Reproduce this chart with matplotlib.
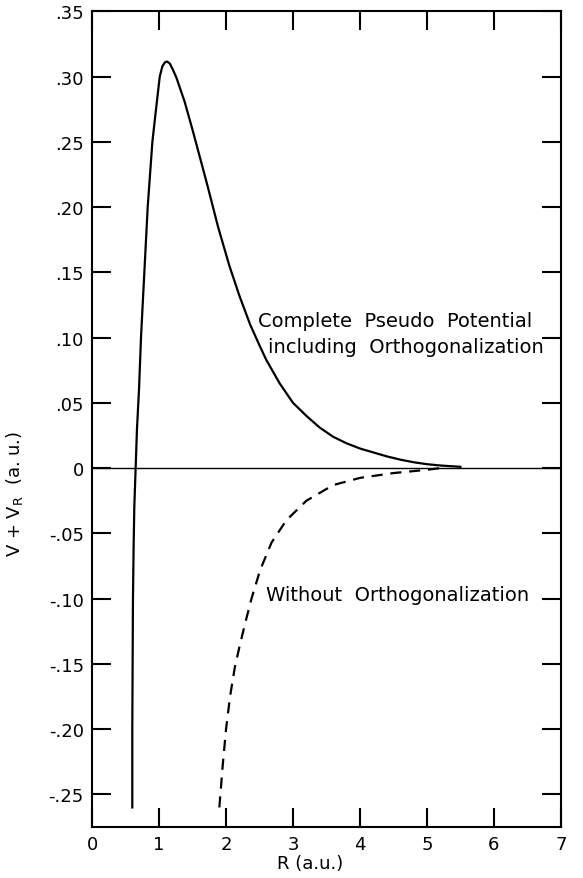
import numpy as np
import matplotlib
matplotlib.use('Agg')
import matplotlib.pyplot as plt

# values (R in a.u., V + V_R in a.u.)
r_complete = [0.60, 0.60, 0.605, 0.61, 0.62, 0.63, 0.65, 0.67, 0.70, 0.73, 0.78, 0.83, 0.90, 0.95,
              1.01, 1.05, 1.09, 1.12, 1.16, 1.20, 1.26, 1.38, 1.49, 1.60, 1.72, 1.88, 2.05, 2.20,
              2.36, 2.50, 2.60, 2.80, 3.00, 3.20, 3.40, 3.60, 3.80, 4.00, 4.20, 4.40, 4.60, 4.80,
              5.00, 5.20, 5.50]
v_complete = [-0.26, -0.20, -0.15, -0.10, -0.06, -0.03, 0.0, 0.03, 0.06, 0.10, 0.15, 0.20, 0.25, 0.273,
              0.300, 0.308, 0.311, 0.3115, 0.310, 0.306, 0.299, 0.281, 0.261, 0.240, 0.217, 0.185, 0.155, 0.132,
              0.110, 0.094, 0.083, 0.065, 0.050, 0.040, 0.031, 0.024, 0.019, 0.015, 0.012, 0.009, 0.0065, 0.0045,
              0.003, 0.002, 0.001]

r_without = [1.90, 1.95, 2.00, 2.06, 2.13, 2.20, 2.28, 2.38, 2.51, 2.68, 2.90, 3.20, 3.60, 4.00, 4.50, 5.00, 5.20]
v_without = [-0.26, -0.228, -0.200, -0.175, -0.153, -0.137, -0.120, -0.100, -0.078, -0.057, -0.040, -0.025,
             -0.013, -0.0075, -0.0038, -0.0013, 0.0]

x_ticks = [0, 1, 2, 3, 4, 5, 6, 7]
y_ticks = [0.35, 0.30, 0.25, 0.20, 0.15, 0.10, 0.05, 0.0, -0.05, -0.10, -0.15, -0.20, -0.25]
y_tick_labels = ['.35', '.30', '.25', '.20', '.15', '.10', '.05', '0', '-.05', '-.10', '-.15', '-.20', '-.25']

plt.rcParams['font.family'] = ['DejaVu Sans']

fig = plt.figure(figsize=(5.83, 8.79), dpi=100)
ax = fig.add_axes([0.158, 0.058, 0.804, 0.928])

ax.axhline(0, color='black', lw=1.0)
ax.plot(r_complete, v_complete, color='black', lw=1.6, solid_joinstyle='round')
ax.plot(r_without, v_without, color='black', lw=1.6, dashes=(5, 3.5))

ax.set_xlim(0, 7)
ax.set_ylim(-0.275, 0.35)
ax.set_xticks(x_ticks)
ax.set_xticklabels([str(t) for t in x_ticks])
ax.set_yticks(y_ticks)
ax.set_yticklabels(y_tick_labels)
ax.tick_params(direction='in', length=14, width=1.5, top=True, right=True,
               labelsize=13, pad=6)
for s in ax.spines.values():
    s.set_linewidth(1.5)

ax.set_xlabel('R (a.u.)', fontsize=13)
ax.xaxis.set_label_coords(0.465, -0.033)
ax.set_ylabel('V + V$_\\mathregular{R}$  (a. u.)', fontsize=13)
ax.yaxis.set_label_coords(-0.143, 0.41)

ax.text(2.48, 0.113, 'Complete  Pseudo  Potential', fontsize=14, va='center')
ax.text(2.63, 0.093, 'including  Orthogonalization', fontsize=14, va='center')
ax.text(2.6, -0.097, 'Without  Orthogonalization', fontsize=14, va='center')

plt.savefig('out.png', dpi=100)
